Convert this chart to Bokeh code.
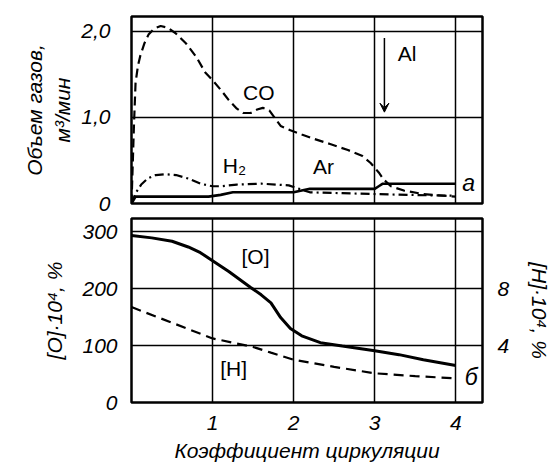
import math
from bokeh.plotting import figure
from bokeh.layouts import column
from bokeh.models import Range1d, LinearAxis, FixedTicker, Label, Arrow, VeeHead
from bokeh.embed import file_html
from bokeh.resources import INLINE

# ---------------- data ----------------
# top panel (a): gas volume, m3/min vs circulation coefficient
co_x = [0, 0.03, 0.05, 0.08, 0.11, 0.16, 0.21, 0.28, 0.36, 0.45, 0.55, 0.67, 0.8, 0.91, 1.0,
        1.1, 1.2, 1.3, 1.38, 1.47, 1.55, 1.62, 1.7, 1.84, 1.96, 2.1, 2.25, 2.45, 2.67, 2.85,
        2.95, 3.05, 3.11, 3.2, 3.36, 3.6, 3.85, 4.0]
co_y = [0, 0.9, 1.4, 1.6, 1.72, 1.86, 1.96, 2.03, 2.06, 2.04, 1.97, 1.86, 1.7, 1.52, 1.43,
        1.32, 1.2, 1.1, 1.05, 1.05, 1.09, 1.11, 1.08, 0.9, 0.85, 0.8, 0.75, 0.69, 0.62, 0.55,
        0.47, 0.36, 0.28, 0.2, 0.15, 0.11, 0.09, 0.08]

h2_x = [0, 0.05, 0.12, 0.2, 0.3, 0.42, 0.55, 0.7, 0.85, 1.0, 1.1, 1.3, 1.6, 1.94, 2.2, 2.6,
        3.0, 3.4, 4.0]
h2_y = [0, 0.12, 0.22, 0.29, 0.33, 0.34, 0.33, 0.29, 0.23, 0.2, 0.2, 0.22, 0.23, 0.21, 0.13,
        0.12, 0.11, 0.1, 0.09]

ar_x = [0, 0.05, 0.5, 0.95, 1.1, 1.25, 2.0, 2.2, 3.0, 3.05, 3.1, 4.0]
ar_y = [0, 0.08, 0.08, 0.08, 0.1, 0.13, 0.13, 0.17, 0.17, 0.2, 0.23, 0.23]

# bottom panel (б): [O]*10^4 % (left axis) and [H]*10^4 % (right axis)
o_x = [0, 0.25, 0.5, 0.7, 0.85, 1.0, 1.2, 1.47, 1.6, 1.72, 1.84, 1.96, 2.1, 2.33, 2.6, 3.0,
       3.3, 3.6, 4.0]
o_y = [293, 289, 283, 273, 263, 249, 230, 202, 189, 175, 149, 130, 117, 105, 99, 91, 84, 75, 65]

h_x = [0, 0.5, 1.0, 1.5, 1.72, 2.0, 2.5, 3.0, 3.5, 4.0]
h_y = [6.7, 5.6, 4.5, 3.9, 3.5, 3.0, 2.5, 2.05, 1.85, 1.7]

x_ticks = [1, 2, 3, 4]
gas_ticks = [0, 1, 2]
gas_tick_labels = {0: "0", 1: "1,0", 2: "2,0"}
o_ticks = [0, 100, 200, 300]
h_ticks = [4, 8]

FONT = "Liberation Sans"
W = 556
RB = 74
XR = (0, 4.33)


def style(p, yticks_grid):
    p.outline_line_color = "black"
    p.outline_line_width = 2.5
    p.outline_line_alpha = 1
    p.xgrid.ticker = FixedTicker(ticks=x_ticks)
    p.ygrid.ticker = FixedTicker(ticks=yticks_grid)
    for g in (p.xgrid, p.ygrid):
        g.grid_line_color = "black"
        g.grid_line_width = 1.5
        g.grid_line_alpha = 1
    p.background_fill_color = "white"
    p.border_fill_color = "white"


def style_axis(ax, standoff, size="21px"):
    ax.axis_line_color = None
    ax.major_tick_line_color = None
    ax.minor_tick_line_color = None
    ax.major_tick_in = 0
    ax.major_tick_out = 0
    ax.minor_tick_in = 0
    ax.minor_tick_out = 0
    ax.major_label_standoff = standoff
    ax.major_label_text_font = FONT
    ax.major_label_text_font_style = "italic"
    ax.major_label_text_font_size = size
    ax.major_label_text_color = "black"
    ax.axis_label_text_font = FONT
    ax.axis_label_text_font_style = "italic"
    ax.axis_label_text_font_size = size
    ax.axis_label_text_color = "black"


lab_kw = dict(text_font=FONT, text_color="black", text_align="center", text_baseline="middle")

# ---------------- top panel ----------------
top = figure(width=W, height=216, x_range=Range1d(*XR), y_range=Range1d(0, 2.17),
             output_backend="svg", toolbar_location=None,
             min_border_left=131, min_border_right=RB, min_border_top=16, min_border_bottom=13)
style(top, [1, 2])
top.xaxis.visible = False
ya = top.yaxis[0]
ya.ticker = FixedTicker(ticks=gas_ticks)
ya.major_label_overrides = gas_tick_labels
ya.axis_label = "м³/мин"
style_axis(ya, 21)
ya.axis_label_standoff = 4

ya2 = LinearAxis(ticker=FixedTicker(ticks=[]), axis_label="Объем газов,")
style_axis(ya2, 0)
ya2.axis_label_standoff = 3
top.add_layout(ya2, "left")

top.line(co_x, co_y, line_color="black", line_width=2.2, line_dash="9 5")
top.line(h2_x, h2_y, line_color="black", line_width=2.2, line_dash="9 4 2 4")
top.line(ar_x, ar_y, line_color="black", line_width=2.6)

top.add_layout(Label(x=1.57, y=1.29, text="CO", text_font_size="21px", **lab_kw))
top.add_layout(Label(x=1.27, y=0.44, text="H₂", text_font_size="21px", **lab_kw))
top.add_layout(Label(x=2.37, y=0.43, text="Ar", text_font_size="21px", **lab_kw))
top.add_layout(Label(x=3.40, y=1.74, text="Al", text_font_size="21px", **lab_kw))
top.add_layout(Label(x=4.16, y=0.24, text="a", text_font_size="23px",
                     text_font_style="italic", **lab_kw))
top.add_layout(Arrow(end=VeeHead(size=9, fill_color="black", line_color="black"),
                     x_start=3.12, y_start=1.92, x_end=3.12, y_end=1.06,
                     line_color="black", line_width=1.5))

# ---------------- bottom panel ----------------
bot = figure(width=W, height=252, x_range=top.x_range, y_range=Range1d(0, 323),
             output_backend="svg", toolbar_location=None,
             min_border_left=131, min_border_right=RB, min_border_top=2, min_border_bottom=66)
bot.extra_y_ranges = {"h": Range1d(0, 12.92)}
style(bot, [100, 200, 300])

xa = bot.xaxis[0]
xa.ticker = FixedTicker(ticks=x_ticks)
xa.axis_label = "Коэффициент циркуляции"
style_axis(xa, 13)
xa.axis_label_standoff = 6

yb = bot.yaxis[0]
yb.ticker = FixedTicker(ticks=o_ticks)
yb.axis_label = "[O]·10⁴, %"
style_axis(yb, 14)
yb.axis_label_standoff = 13

yr = LinearAxis(y_range_name="h", ticker=FixedTicker(ticks=h_ticks), axis_label="[H]·10⁴, %")
style_axis(yr, 15)
yr.axis_label_standoff = 16
bot.add_layout(yr, "right")

bot.line(o_x, o_y, line_color="black", line_width=3)
bot.line(h_x, h_y, y_range_name="h", line_color="black", line_width=2.2, line_dash="10 6")

bot.add_layout(Label(x=1.53, y=256, text="[O]", text_font_size="21px", **lab_kw))
bot.add_layout(Label(x=1.26, y=60, text="[H]", text_font_size="21px", **lab_kw))
bot.add_layout(Label(x=4.19, y=44, text="б", text_font_size="23px",
                     text_font_style="italic", **lab_kw))

layout = column(top, bot, spacing=0)
open("out.html", "w").write(file_html(layout, INLINE))
